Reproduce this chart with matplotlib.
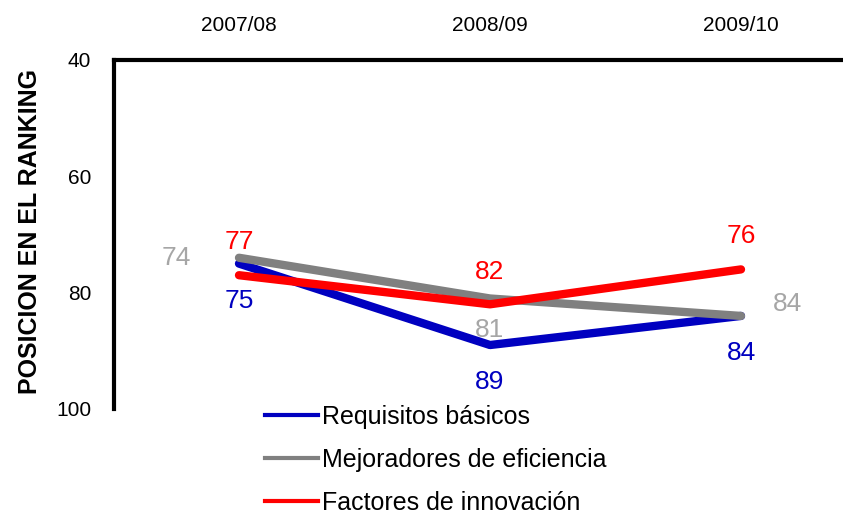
import matplotlib
matplotlib.use("Agg")
import matplotlib.pyplot as plt

periods = ["2007/08", "2008/09", "2009/10"]
requisitos = [75, 89, 84]
mejoradores = [74, 81, 84]
innovacion = [77, 82, 76]
series_names = ["Requisitos básicos", "Mejoradores de eficiencia", "Factores de innovación"]
y_ticks = [40, 60, 80, 100]

line_colors = ["#0000C0", "#808080", "#FF0000"]
label_colors = ["#0000C0", "#A6A6A6", "#FF0000"]
# label offsets in pixels (dx, dy) with dy positive downward
offsets = [
    [(0, 37), (0, 37), (0, 37)],
    [(-63, 0), (0, 32), (46, -12)],
    [(0, -33), (0, -32), (0, -33)],
]

W, H = 843, 517
fig = plt.figure(figsize=(W / 100, H / 100), dpi=100)
ax = fig.add_axes([113.5 / W, 1 - 409 / H, (866.5 - 113.5) / W, (409 - 60) / H])

regular = ["Liberation Sans", "DejaVu Sans"]

x = list(range(len(periods)))
all_series = [requisitos, mejoradores, innovacion]
for vals, name, lc in zip(all_series, series_names, line_colors):
    ax.plot(x, vals, color=lc, lw=6, solid_capstyle="round", solid_joinstyle="round", label=name)

for vals, lc, offs in zip(all_series, label_colors, offsets):
    for xi, v, (dx, dy) in zip(x, vals, offs):
        ax.annotate(str(v), (xi, v), xytext=(dx * 0.72, -dy * 0.72), textcoords="offset points",
                    ha="center", va="center", fontsize=19, color=lc, family=regular)

ax.set_xlim(-0.5, 2.5)
ax.set_ylim(100, 40)
ax.set_yticks(y_ticks)
ax.set_yticklabels([str(t) for t in y_ticks], family=regular, fontsize=15)
ax.set_xticks(x)
ax.set_xticklabels(periods, family=regular, fontsize=15)
ax.xaxis.tick_top()
ax.tick_params(axis="x", length=0, pad=18)
ax.tick_params(axis="y", length=0, pad=16)
for s in ["right", "bottom"]:
    ax.spines[s].set_visible(False)
for s in ["left", "top"]:
    ax.spines[s].set_linewidth(3)
    ax.spines[s].set_color("black")

fig.text(30 / W, 1 - 232 / H, "POSICION EN EL RANKING", rotation=90, ha="center", va="center",
         fontsize=18, fontweight="bold", family=regular)

leg_handles = []
for lc, name in zip(line_colors, series_names):
    l, = ax.plot([], [], color=lc, lw=3, label=name)
    leg_handles.append(l)
fig.legend(handles=leg_handles, loc="upper left", bbox_to_anchor=(265 / W, 1 - 405 / H),
           frameon=False, prop={"family": regular, "size": 18}, handlelength=2.1,
           handletextpad=0.2, labelspacing=0.76, borderpad=0, borderaxespad=0)

fig.savefig("out.png", dpi=100)
